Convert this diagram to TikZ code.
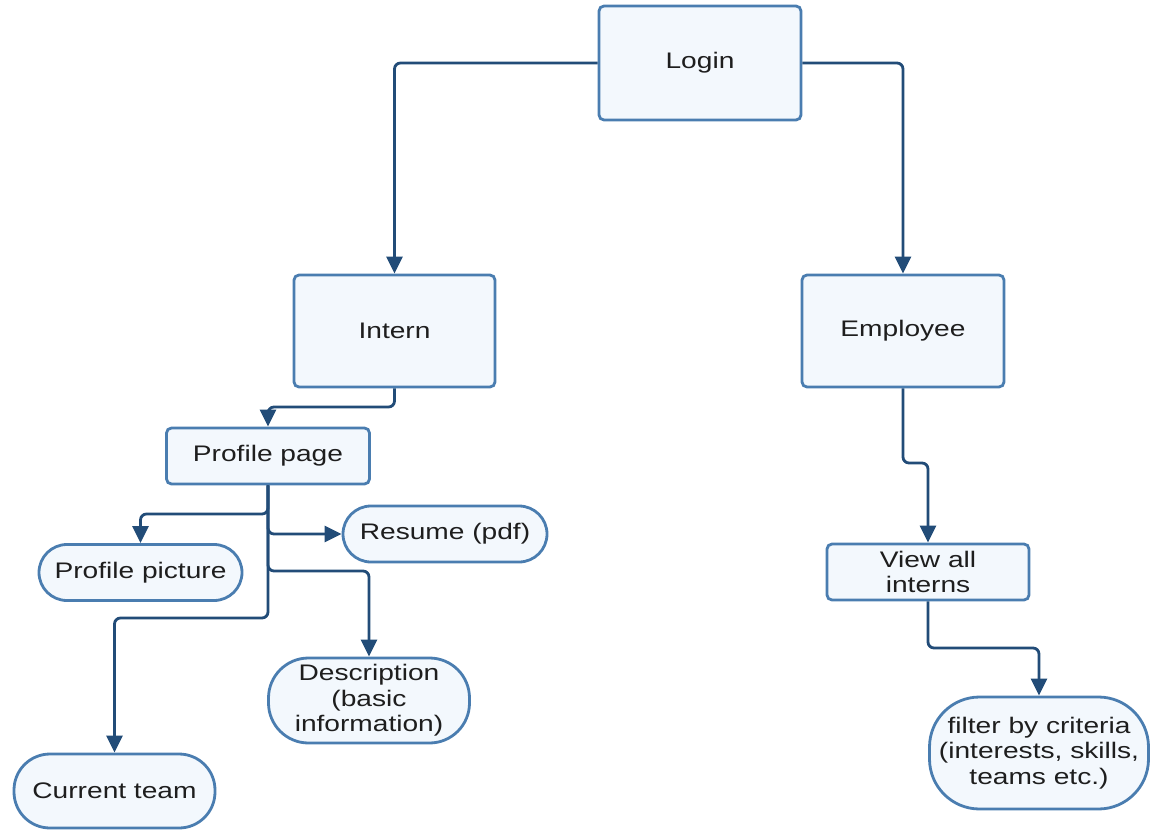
\documentclass[tikz,border=0pt]{standalone}
\usepackage{fontspec}
\setmainfont{Liberation Sans}[FakeStretch=1.25]
\usetikzlibrary{arrows.meta}
\definecolor{boxline}{HTML}{4A7DB0}
\definecolor{boxfill}{HTML}{F3F8FD}
\definecolor{conn}{HTML}{224C78}
\definecolor{txt}{HTML}{1E1E1E}
\begin{document}
\begin{tikzpicture}[x=1pt,y=-1pt,
  base/.style={draw=boxline, fill=boxfill, line width=2.8pt, inner sep=0pt, align=center, text=txt, font=\fontsize{22.5}{25.5}\selectfont},
  rbox/.style={base, rounded corners=5pt},
  pill/.style={base, rounded corners=#1},
  link/.style={draw=conn, line width=2.8pt, rounded corners=6pt, -{Triangle[width=16pt,length=17pt]}}]
\useasboundingbox (0,0) rectangle (1151,830);

\node[rbox, minimum width=202pt, minimum height=114pt] (login) at (700,63) {Login};
\node[rbox, minimum width=201pt, minimum height=112pt] (intern) at (394.5,331) {Intern};
\node[rbox, minimum width=202pt, minimum height=112pt] (employee) at (903,331) {Employee};
\node[rbox, minimum width=203pt, minimum height=56pt] (profile) at (268,456) {Profile page};
\node[pill=28pt, minimum width=204pt, minimum height=56pt] (resume) at (445,534) {Resume (pdf)};
\node[pill=28pt, minimum width=203pt, minimum height=56pt] (pic) at (140.5,572.5) {Profile picture};
\node[pill=40pt, minimum width=201pt, minimum height=85pt] (desc) at (369,700.5) {Description\\(basic\\information)};
\node[pill=36pt, minimum width=201pt, minimum height=74pt] (team) at (114.5,791) {Current team};
\node[rbox, minimum width=202pt, minimum height=56pt] (view) at (928,572) {View all\\interns};
\node[pill=50pt, minimum width=219pt, minimum height=112pt] (filter) at (1039,753) {filter by criteria\\(interests, skills,\\teams etc.)};

\coordinate (ia) at (394.5,407);
\coordinate (pa) at (268,514);
\coordinate (pb) at (268,571);
\coordinate (pc) at (268,618);
\coordinate (ea) at (903,463);
\coordinate (va) at (928,648);

\draw[link] (login.west) -| (intern.north);
\draw[link] (login.east) -| (employee.north);
\draw[link] (intern.south) -- (ia) -| (profile.north);
\draw[link] (profile.south) -- (pa) -| (pic.north);
\draw[link] (profile.south) |- (resume.west);
\draw[link] (profile.south) -- (pb) -| (desc.north);
\draw[link] (profile.south) -- (pc) -| (team.north);
\draw[link] (employee.south) -- (ea) -| (view.north);
\draw[link] (view.south) -- (va) -| (filter.north);
\end{tikzpicture}
\end{document}
